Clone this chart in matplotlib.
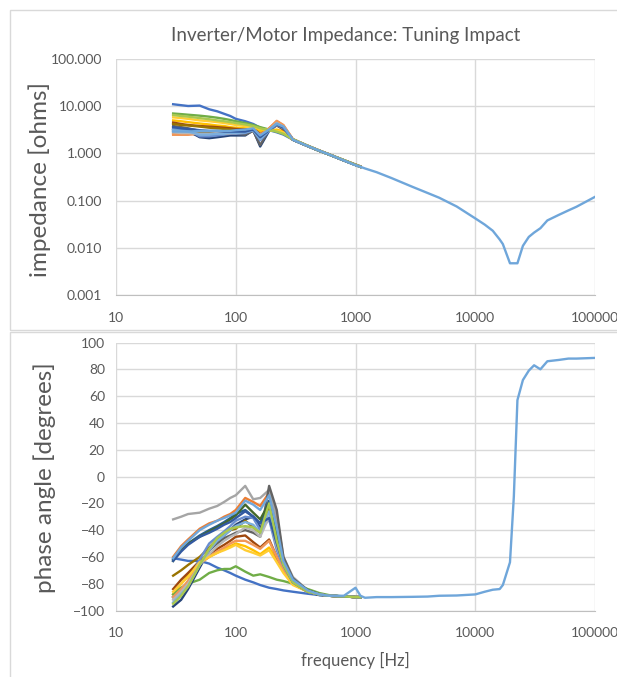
import matplotlib
matplotlib.use("Agg")
import matplotlib.pyplot as plt
from matplotlib.patches import Rectangle
from matplotlib.ticker import FixedLocator, FixedFormatter, NullLocator

plt.rcParams['font.family'] = ['Lato', 'DejaVu Sans']

# ---------------- data ----------------
freq = [30, 35, 40, 50, 60, 70, 80, 90, 100, 120, 140, 160, 190, 220, 250,
        300, 400, 500, 600, 800, 1000, 1100]

series_colors = ['#4472C4', '#ED7D31', '#A5A5A5', '#FFC000', '#70AD47', '#264478',
                 '#9E480E', '#636363', '#997300', '#255E91', '#43682B', '#698ED0',
                 '#F1975A', '#B7B7B7', '#FFCD33', '#7CAFDD', '#335AA1', '#A9C84E']

imp_s1 = [11.0, 10.5, 10.1, 10.3, 8.6, 7.8, 6.9, 6.2, 5.4, 4.8, 4.2, 3.5, 3.1, 2.8, 2.5, 1.95, 1.42, 1.13, 0.95, 0.71, 0.57, 0.52]
imp_s2 = [2.5, 2.5, 2.5, 2.6, 2.7, 2.7, 2.7, 2.8, 2.8, 3.0, 3.3, 2.2, 3.4, 4.8, 3.9, 2.0, 1.45, 1.15, 0.96, 0.72, 0.58, 0.53]
imp_s3 = [2.7, 2.7, 2.8, 2.8, 2.8, 2.9, 2.9, 3.0, 3.0, 3.2, 3.3, 2.5, 3.3, 4.3, 3.6, 1.95, 1.44, 1.14, 0.95, 0.72, 0.57, 0.52]
imp_s4 = [5.0, 4.8, 4.6, 4.3, 4.1, 3.9, 3.8, 3.6, 3.5, 3.4, 3.3, 3.0, 3.0, 3.2, 2.9, 1.95, 1.42, 1.13, 0.95, 0.71, 0.57, 0.52]
imp_s5 = [7.0, 6.8, 6.6, 6.3, 6.0, 5.7, 5.4, 5.1, 4.8, 4.4, 4.0, 3.6, 3.2, 2.9, 2.6, 2.0, 1.45, 1.15, 0.96, 0.72, 0.58, 0.53]
imp_s6 = [3.3, 3.1, 3.0, 2.2, 2.1, 2.2, 2.3, 2.4, 2.4, 2.4, 3.1, 1.4, 3.0, 4.2, 3.5, 1.95, 1.42, 1.13, 0.95, 0.71, 0.57, 0.52]
imp_s7 = [4.5, 4.2, 4.0, 3.8, 3.7, 3.6, 3.5, 3.4, 3.3, 3.2, 3.3, 2.6, 3.1, 3.9, 3.2, 1.95, 1.43, 1.13, 0.95, 0.71, 0.57, 0.52]
imp_s8 = [3.8, 3.6, 3.4, 3.0, 2.8, 2.7, 2.7, 2.6, 2.6, 2.5, 3.0, 1.5, 3.2, 4.3, 3.6, 1.95, 1.43, 1.14, 0.95, 0.71, 0.57, 0.52]
imp_s9 = [4.2, 4.0, 3.9, 3.7, 3.5, 3.4, 3.3, 3.2, 3.1, 3.1, 3.3, 2.3, 3.2, 4.0, 3.4, 1.95, 1.43, 1.13, 0.95, 0.71, 0.57, 0.52]
imp_s10 = [3.0, 2.9, 2.8, 2.8, 2.8, 2.8, 2.8, 2.9, 2.9, 3.0, 3.3, 2.3, 3.3, 4.5, 3.7, 1.95, 1.43, 1.14, 0.95, 0.71, 0.57, 0.52]
imp_s11 = [3.2, 3.1, 3.0, 2.9, 2.9, 2.9, 2.9, 2.9, 3.0, 3.1, 3.3, 2.4, 3.2, 4.4, 3.6, 1.95, 1.43, 1.13, 0.95, 0.71, 0.57, 0.52]
imp_s12 = [3.4, 3.3, 3.1, 2.3, 2.3, 2.4, 2.5, 2.6, 2.6, 2.7, 3.1, 1.9, 3.0, 4.0, 3.4, 1.95, 1.42, 1.13, 0.95, 0.71, 0.57, 0.52]
imp_s13 = [2.6, 2.6, 2.6, 2.6, 2.6, 2.6, 2.6, 2.7, 2.7, 2.9, 3.2, 2.5, 3.4, 4.9, 4.0, 2.0, 1.45, 1.15, 0.96, 0.72, 0.58, 0.53]
imp_s14 = [2.8, 2.7, 2.7, 2.6, 2.6, 2.7, 2.7, 2.7, 2.8, 2.9, 3.2, 2.3, 3.2, 4.4, 3.7, 1.95, 1.43, 1.14, 0.95, 0.71, 0.57, 0.52]
imp_s15 = [5.8, 5.6, 5.4, 5.0, 4.8, 4.6, 4.4, 4.2, 4.0, 3.8, 3.6, 3.3, 3.1, 3.0, 2.8, 1.95, 1.43, 1.13, 0.95, 0.71, 0.57, 0.52]
imp_s16 = [3.1, 3.0, 2.9, 2.5, 2.5, 2.6, 2.6, 2.7, 2.7, 2.8, 3.1, 2.0, 3.1, 4.3, 3.6, 1.95, 1.43, 1.13, 0.95, 0.71, 0.57, 0.52]
imp_s17 = [3.6, 3.4, 3.3, 3.1, 3.0, 3.0, 2.9, 2.9, 2.9, 2.9, 3.2, 2.2, 3.1, 4.1, 3.5, 1.95, 1.43, 1.13, 0.95, 0.71, 0.57, 0.52]
imp_s18 = [6.5, 6.2, 6.0, 5.6, 5.3, 5.0, 4.8, 4.6, 4.4, 4.1, 3.8, 3.4, 3.1, 2.9, 2.6, 2.0, 1.44, 1.14, 0.95, 0.72, 0.57, 0.52]

ph_s1 = [-61, -62, -63, -63, -65, -68, -70, -72, -74, -77, -79, -81, -83, -84, -85, -86, -87.5, -88.5, -89, -89.5, -90, -90]
ph_s2 = [-60, -52, -47, -39, -35, -33, -30, -28, -25, -16, -19, -22, -12, -36, -62, -76, -85, -88, -89, -89.5, -90, -90]
ph_s3 = [-32, -30, -28, -27, -24, -22, -19, -16, -14, -7, -17, -16, -10, -30, -60, -75, -85, -88, -89, -89.5, -90, -90]
ph_s4 = [-88, -80, -74, -65, -60, -57, -54, -52, -50, -52, -55, -58, -53, -62, -70, -80, -86, -88, -89, -89.5, -90, -90]
ph_s5 = [-88, -83, -80, -77, -72, -70, -69, -69, -67, -71, -74, -73, -75, -77, -78, -80, -84, -87, -88.5, -89.5, -90, -90]
ph_s6 = [-97, -92, -84, -68, -55, -48, -44, -40, -36, -32, -30, -38, -31, -50, -65, -78, -86, -88.5, -89, -89.5, -90, -90]
ph_s7 = [-84, -77, -72, -63, -58, -54, -51, -48, -45, -44, -49, -53, -47, -60, -70, -80, -86, -88, -89, -89.5, -90, -90]
ph_s8 = [-90, -86, -80, -65, -55, -50, -46, -44, -42, -40, -42, -45, -7, -25, -60, -76, -85, -88, -89, -89.5, -90, -90]
ph_s9 = [-74, -70, -66, -60, -53, -47, -43, -40, -39, -33, -38, -42, -22, -50, -65, -78, -85, -88, -89, -89.5, -90, -90]
ph_s10 = [-62, -55, -50, -44, -40, -37, -34, -31, -28, -25, -30, -35, -18, -42, -64, -77, -85, -88, -89, -89.5, -90, -90]
ph_s11 = [-63, -55, -50, -45, -41, -38, -35, -32, -29, -21, -27, -32, -20, -45, -65, -78, -85, -88, -89, -89.5, -90, -90]
ph_s12 = [-90, -85, -78, -62, -50, -45, -41, -37, -33, -30, -31, -40, -32, -55, -68, -80, -86, -88, -89, -89.5, -90, -90]
ph_s13 = [-90, -84, -78, -65, -60, -56, -53, -50, -48, -48, -51, -54, -48, -60, -70, -80, -86, -88, -89, -89.5, -90, -90]
ph_s14 = [-92, -86, -80, -66, -58, -52, -48, -45, -43, -38, -40, -45, -30, -52, -66, -79, -86, -88, -89, -89.5, -90, -90]
ph_s15 = [-86, -80, -75, -64, -60, -57, -55, -53, -51, -55, -57, -59, -55, -64, -72, -81, -86, -88, -89, -89.5, -90, -90]
ph_s16 = [-94, -88, -82, -66, -55, -48, -44, -40, -37, -34, -36, -42, -26, -50, -66, -79, -86, -88, -89, -89.5, -90, -90]
ph_s17 = [-63, -56, -51, -45, -42, -39, -36, -34, -31, -26, -30, -35, -31, -50, -66, -79, -86, -88, -89, -89.5, -90, -90]
ph_s18 = [-95, -89, -82, -66, -54, -46, -42, -39, -38, -37, -38, -42, -20, -48, -66, -79, -86, -88, -89, -89.5, -90, -90]

# long sweep (light blue)
freq_long = [30, 35, 40, 50, 60, 70, 80, 90, 100, 120, 140, 160, 190, 220, 250,
             300, 400, 500, 600, 800, 1000, 1100, 1200, 1500, 2000, 3000, 4000,
             5000, 7000, 10000, 12000, 14000, 16000, 17000, 19500, 21000, 22500,
             25000, 28000, 31000, 35000, 40000, 50000, 60000, 70000, 100000]
imp_long = [2.9, 2.9, 2.9, 3.0, 3.0, 3.0, 3.0, 3.0, 3.1, 3.2, 3.4, 2.4, 3.2, 4.2, 3.7,
            1.95, 1.43, 1.14, 0.95, 0.71, 0.56, 0.52, 0.48, 0.40, 0.30, 0.195, 0.145,
            0.115, 0.075, 0.042, 0.031, 0.023, 0.015, 0.012, 0.0047, 0.0047, 0.0047,
            0.011, 0.017, 0.021, 0.026, 0.038, 0.050, 0.062, 0.074, 0.12]
ph_long = [-61, -53, -48, -40, -36, -33, -31, -29, -27, -18, -21, -25, -14, -38, -63,
           -77, -85, -88, -89, -89, -83, -89, -90.5, -90, -90, -89.8, -89.6,
           -89, -88.8, -88, -86, -84.5, -84, -81, -64, -15, 57,
           72, 79, 83, 80, 86, 87, 88, 88, 88.5]

imp_cluster = [imp_s1, imp_s2, imp_s3, imp_s4, imp_s5, imp_s6, imp_s7, imp_s8, imp_s9,
               imp_s10, imp_s11, imp_s12, imp_s13, imp_s14, imp_s15, imp_s16, imp_s17, imp_s18]
ph_cluster = [ph_s1, ph_s2, ph_s3, ph_s4, ph_s5, ph_s6, ph_s7, ph_s8, ph_s9,
              ph_s10, ph_s11, ph_s12, ph_s13, ph_s14, ph_s15, ph_s16, ph_s17, ph_s18]
long_color = '#6FA6DA'

x_ticks = [10, 100, 1000, 10000, 100000]
x_ticklabels = ['10', '100', '1000', '10000', '100000']
imp_ticks = [0.001, 0.01, 0.1, 1, 10, 100]
imp_ticklabels = ['0.001', '0.010', '0.100', '1.000', '10.000', '100.000']
ph_ticks = [-100, -80, -60, -40, -20, 0, 20, 40, 60, 80, 100]

title = 'Inverter/Motor Impedance: Tuning Impact'
ylabel_top = 'impedance [ohms]'
ylabel_bot = 'phase angle [degrees]'
xlabel_bot = 'frequency [Hz]'

# ---------------- figure ----------------
W, H = 617, 677
fig = plt.figure(figsize=(W / 100, H / 100), dpi=100)
txt = '#595959'
grid_c = '#D9D9D9'

# chart-area borders
fig.patches.append(Rectangle((10 / W, 1 - 330 / H), 640 / W, 320 / H, transform=fig.transFigure,
                             fill=False, edgecolor='#D9D9D9', linewidth=1.0))
fig.patches.append(Rectangle((10 / W, 1 - 700 / H), 640 / W, 368 / H, transform=fig.transFigure,
                             fill=False, edgecolor='#D9D9D9', linewidth=1.0))

ax1 = fig.add_axes([116 / W, 1 - 295 / H, 479 / W, 236 / H])
ax2 = fig.add_axes([116 / W, 1 - 610.5 / H, 479 / W, 268 / H])

lw = 1.7
for vals, c in zip(imp_cluster, series_colors):
    ax1.plot(freq, vals, color=c, lw=lw, solid_joinstyle='round')
ax1.plot(freq_long, imp_long, color=long_color, lw=lw, solid_joinstyle='round')

for vals, c in zip(ph_cluster, series_colors):
    ax2.plot(freq, vals, color=c, lw=lw, solid_joinstyle='round')
ax2.plot(freq_long, ph_long, color=long_color, lw=lw, solid_joinstyle='round')

for ax in (ax1, ax2):
    ax.set_xscale('log')
    ax.set_xlim(10, 100000)
    ax.xaxis.set_major_locator(FixedLocator(x_ticks))
    ax.xaxis.set_major_formatter(FixedFormatter(x_ticklabels))
    ax.xaxis.set_minor_locator(NullLocator())
    for s in ax.spines.values():
        s.set_visible(False)
    ax.spines['bottom'].set_visible(True)
    ax.spines['bottom'].set_color('#BFBFBF')
    ax.grid(True, which='major', color=grid_c, lw=1.0)
    ax.set_axisbelow(True)
    ax.tick_params(length=0, labelsize=10, labelcolor=txt)
    ax.tick_params(axis='x', pad=12)
    ax.tick_params(axis='y', pad=10)

ax1.set_yscale('log')
ax1.set_ylim(0.001, 100)
ax1.yaxis.set_major_locator(FixedLocator(imp_ticks))
ax1.yaxis.set_major_formatter(FixedFormatter(imp_ticklabels))
ax1.yaxis.set_minor_locator(NullLocator())

ax2.set_ylim(-100, 100)
ax2.yaxis.set_major_locator(FixedLocator(ph_ticks))
ax2.tick_params(axis='y', pad=8)

fig.text(346 / W, 1 - 35 / H, title, ha='center', va='center', fontsize=13.5, color=txt)
fig.text(40 / W, 1 - 180 / H, ylabel_top, ha='center', va='center', rotation=90,
         fontsize=17.5, color=txt)
fig.text(45 / W, 1 - 478 / H, ylabel_bot, ha='center', va='center', rotation=90,
         fontsize=17.5, color=txt)
fig.text(355 / W, 1 - 660 / H, xlabel_bot, ha='center', va='center', fontsize=12, color=txt)

fig.savefig('out.png', dpi=100)
